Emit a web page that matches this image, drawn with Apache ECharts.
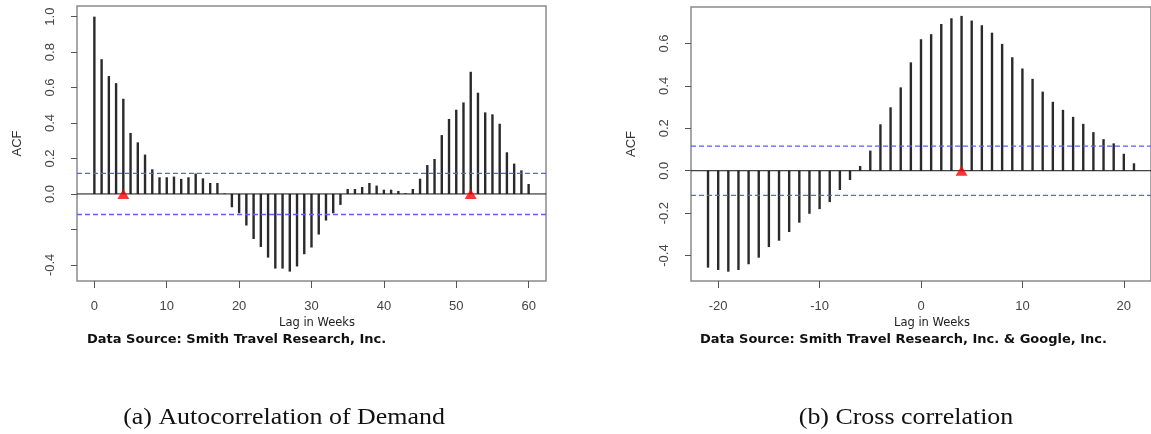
<!DOCTYPE html>
<html>
<head>
<meta charset="utf-8">
<script src="https://cdn.jsdelivr.net/npm/echarts@6/dist/echarts.min.js"></script>
<style>html,body{margin:0;padding:0;background:#fff;}#c{width:1151px;height:434px;}</style>
</head>
<body>
<div id="c"></div>
<script>
// ---- data ----
const lagsA = [0,1,2,3,4,5,6,7,8,9,10,11,12,13,14,15,16,17,18,19,20,21,22,23,24,25,26,27,28,29,30,31,32,33,34,35,36,37,38,39,40,41,42,43,44,45,46,47,48,49,50,51,52,53,54,55,56,57,58,59,60];
const acfA = [1.0,0.76,0.665,0.625,0.537,0.344,0.291,0.222,0.139,0.094,0.094,0.098,0.085,0.094,0.115,0.088,0.062,0.062,0.003,-0.075,-0.109,-0.178,-0.254,-0.299,-0.359,-0.421,-0.421,-0.438,-0.409,-0.340,-0.302,-0.229,-0.150,-0.109,-0.062,0.028,0.028,0.039,0.062,0.047,0.024,0.024,0.017,0.004,0.028,0.086,0.163,0.197,0.332,0.423,0.475,0.516,0.689,0.571,0.46,0.449,0.396,0.235,0.171,0.133,0.056];
const markersA = [4, 52];
const lagsB = [-21,-20,-19,-18,-17,-16,-15,-14,-13,-12,-11,-10,-9,-8,-7,-6,-5,-4,-3,-2,-1,0,1,2,3,4,5,6,7,8,9,10,11,12,13,14,15,16,17,18,19,20,21];
const ccfB = [-0.457,-0.468,-0.476,-0.468,-0.441,-0.41,-0.36,-0.33,-0.289,-0.245,-0.203,-0.181,-0.148,-0.091,-0.044,0.022,0.095,0.219,0.299,0.393,0.511,0.62,0.644,0.692,0.719,0.73,0.708,0.686,0.651,0.598,0.535,0.482,0.433,0.373,0.325,0.287,0.254,0.221,0.182,0.149,0.129,0.08,0.035];
const markersB = [4];
const confA = 0.116;
const confB = 0.116;
const xRangeA = [-2.4, 62.4];
const yRangeA = [-0.491, 1.06];
const xRangeB = [-22.68, 22.68];
const yRangeB = [-0.52, 0.772];
const xTicksA = [0,10,20,30,40,50,60];
const yTicksA = [-0.4,-0.2,0.0,0.2,0.4,0.6,0.8,1.0];
const yLabelsA = [-0.4,0.0,0.2,0.4,0.6,0.8,1.0];
const xTicksB = [-20,-10,0,10,20];
const yTicksB = [-0.4,-0.2,0.0,0.2,0.4,0.6];
const yLabelA = 'ACF', yLabelB = 'ACF';
const xTitle = 'Lag in Weeks';
const sourceA = 'Data Source: Smith Travel Research, Inc.';
const sourceB = 'Data Source: Smith Travel Research, Inc. & Google, Inc.';
const captionA = '(a) Autocorrelation of Demand';
const captionB = '(b) Cross correlation';

// ---- chart ----
const chart = echarts.init(document.getElementById('c'), null, {renderer: 'canvas'});
const tickFont = {fontFamily: 'Liberation Sans, Arial, sans-serif', fontSize: 13, color: '#444'};

function xAxisDef(idx, range, ticks) {
  return {
    type: 'value', gridIndex: idx, min: range[0], max: range[1],
    axisLine: {show: false, onZero: false},
    splitLine: {show: false},
    axisTick: {show: true, length: 7, customValues: ticks, lineStyle: {color: '#555', width: 1}},
    axisLabel: Object.assign({customValues: ticks, margin: 19}, tickFont)
  };
}
function yAxisDef(idx, range, ticks, labels, name) {
  return {
    type: 'value', gridIndex: idx, min: range[0], max: range[1],
    name: name, nameLocation: 'middle', nameGap: 53, nameRotate: 90,
    nameTextStyle: {fontFamily: 'Liberation Sans, Arial, sans-serif', fontSize: 13, color: '#333'},
    axisLine: {show: false, onZero: false},
    splitLine: {show: false},
    axisTick: {show: true, length: 6, customValues: ticks, lineStyle: {color: '#555', width: 1}},
    axisLabel: Object.assign({customValues: labels, rotate: 90, margin: 20,
      formatter: v => Number(v).toFixed(1)}, tickFont)
  };
}
function hLine(idx, xr, yv, color, type, width) {
  return {
    type: 'line', xAxisIndex: idx, yAxisIndex: idx, silent: true,
    showSymbol: false, symbol: 'none', z: 3,
    lineStyle: {color: color, width: width, type: type},
    data: [[xr[0], yv], [xr[1], yv]]
  };
}

const option = {
  animation: false,
  backgroundColor: '#fff',
  grid: [
    {left: 77, top: 6, width: 469, height: 275, show: true, borderColor: '#8a8a8a', borderWidth: 1.5, backgroundColor: 'transparent'},
    {left: 691, top: 7, width: 471, height: 274, show: true, borderColor: '#8a8a8a', borderWidth: 1.5, backgroundColor: 'transparent'}
  ],
  xAxis: [
    xAxisDef(0, xRangeA, xTicksA),
    xAxisDef(1, xRangeB, xTicksB)
  ],
  yAxis: [
    yAxisDef(0, yRangeA, yTicksA, yLabelsA, yLabelA),
    yAxisDef(1, yRangeB, yTicksB, yTicksB, yLabelB)
  ],
  series: [
    {type: 'bar', xAxisIndex: 0, yAxisIndex: 0, barWidth: 2.4, z: 2,
     itemStyle: {color: '#2a2a2a'},
     data: lagsA.map((l, i) => [l, acfA[i]])},
    {type: 'bar', xAxisIndex: 1, yAxisIndex: 1, barWidth: 2.4, z: 2,
     itemStyle: {color: '#2a2a2a'},
     data: lagsB.map((l, i) => [l, ccfB[i]])},
    hLine(0, xRangeA, 0, '#111', 'solid', 1),
    hLine(0, xRangeA, confA, '#5c5cff', [5, 3], 1.3),
    hLine(0, xRangeA, -confA, '#5c5cff', [5, 3], 1.3),
    hLine(1, xRangeB, 0, '#111', 'solid', 1),
    hLine(1, xRangeB, confB, '#5c5cff', [5, 3], 1.3),
    hLine(1, xRangeB, -confB, '#5c5cff', [5, 3], 1.3),
    {type: 'scatter', xAxisIndex: 0, yAxisIndex: 0, symbol: 'triangle', symbolSize: [12, 10],
     itemStyle: {color: '#ff0000'}, z: 10,
     data: markersA.map(l => [l, 0])},
    {type: 'scatter', xAxisIndex: 1, yAxisIndex: 1, symbol: 'triangle', symbolSize: [12, 10],
     itemStyle: {color: '#ff0000'}, z: 10,
     data: markersB.map(l => [l, 0])}
  ],
  graphic: [
    {type: 'text', x: 317, y: 323, style: {text: xTitle, font: '11.5px "DejaVu Sans", sans-serif', fill: '#222', align: 'center', verticalAlign: 'middle'}},
    {type: 'text', x: 932, y: 323, style: {text: xTitle, font: '11.5px "DejaVu Sans", sans-serif', fill: '#222', align: 'center', verticalAlign: 'middle'}},
    {type: 'text', x: 87, y: 340, style: {text: sourceA, font: 'bold 13px "DejaVu Sans", sans-serif', fill: '#111', align: 'left', verticalAlign: 'middle'}},
    {type: 'text', x: 700, y: 340, style: {text: sourceB, font: 'bold 13px "DejaVu Sans", sans-serif', fill: '#111', align: 'left', verticalAlign: 'middle'}},
    {type: 'text', x: 284, y: 418, scaleX: 1.08, style: {text: captionA, font: '24px "Liberation Serif", "DejaVu Serif", serif', fill: '#111', align: 'center', verticalAlign: 'middle'}},
    {type: 'text', x: 906, y: 418, scaleX: 1.08, style: {text: captionB, font: '24px "Liberation Serif", "DejaVu Serif", serif', fill: '#111', align: 'center', verticalAlign: 'middle'}}
  ]
};
chart.setOption(option);
</script>
</body>
</html>
